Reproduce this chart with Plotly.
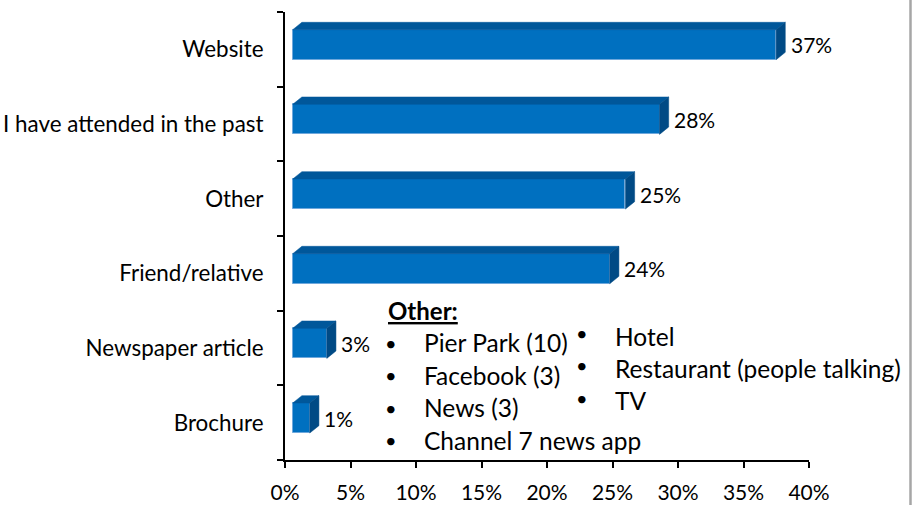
import plotly.graph_objects as go

categories = ["Website", "I have attended in the past", "Other", "Friend/relative",
              "Newspaper article", "Brochure"]
values = [36.9, 28.0, 25.4, 24.2, 2.6, 1.3]
x_ticks = [0, 5, 10, 15, 20, 25, 30, 35, 40]
x_tick_labels = [f"{t}%" for t in x_ticks]
other_title = "Other:"
other_col1 = ["Pier Park (10)", "Facebook (3)", "News (3)", "Channel 7 news app"]
other_col2 = ["Hotel", "Restaurant (people talking)", "TV"]

FONT = "Lato"
FRONT = "#0070C0"
TOP = "#00579A"
SIDE = "#004A85"
EDGE = "#6FA8DC"

W, H = 914, 505
L, R, T, B = 285, 105, 12, 45
PW, PH = W - L - R, H - T - B

def px(x):
    return (x - L) / PW

def py(y):
    return (H - B - y) / PH

n = len(categories)
pos = [n - 1 - i for i in range(n)]
base = 0.59          # front face offset from the axis (in %)
dx, dy = 0.70, 0.099  # depth of the 3D extrusion
f_lo, f_hi = -0.139, 0.263  # front face extent around the category centre

fig = go.Figure()

# front faces
fig.add_trace(go.Bar(
    orientation="h", y=[p + (f_lo + f_hi) / 2 for p in pos], x=values, base=base,
    width=f_hi - f_lo, marker=dict(color=FRONT, line=dict(color=EDGE, width=1)),
    hoverinfo="skip", showlegend=False))

# top faces and side faces
tx, ty, sx, sy = [], [], [], []
for p, v in zip(pos, values):
    x0, x1 = base, base + v
    yt = p + f_hi
    yb = p + f_lo
    tx += [x0, x1, x1 + dx, x0 + dx, x0, None]
    ty += [yt, yt, yt + dy, yt + dy, yt, None]
    sx += [x1, x1 + dx, x1 + dx, x1, x1, None]
    sy += [yb, yb + dy, yt + dy, yt, yb, None]
fig.add_trace(go.Scatter(x=tx, y=ty, mode="lines", fill="toself", fillcolor=TOP,
                         line=dict(color=TOP, width=0.5), hoverinfo="skip", showlegend=False))
fig.add_trace(go.Scatter(x=sx, y=sy, mode="lines", fill="toself", fillcolor=SIDE,
                         line=dict(color=SIDE, width=0.5), hoverinfo="skip", showlegend=False))

# value labels
for p, v in zip(pos, values):
    fig.add_annotation(x=base + v + dx + 0.25, y=p + (f_lo + f_hi) / 2, text=f"{round(v)}%",
                       xref="x", yref="y", xanchor="left", yanchor="middle", showarrow=False,
                       font=dict(family=FONT, size=21, color="black"))

# "Other" text box
ITEM = 24.5
fig.add_annotation(x=px(386), y=py(310), xref="paper", yref="paper", text=f"<b><u>{other_title}</u></b>",
                   xanchor="left", yanchor="middle", showarrow=False,
                   font=dict(family=FONT, size=24, color="black"))
for i, t in enumerate(other_col1):
    yy = 342.5 + i * 32.5
    fig.add_annotation(x=px(391), y=py(yy), xref="paper", yref="paper", text="•",
                       xanchor="center", yanchor="middle", showarrow=False,
                       font=dict(family=FONT, size=20, color="black"))
    fig.add_annotation(x=px(422), y=py(yy), xref="paper", yref="paper", text=t,
                       xanchor="left", yanchor="middle", showarrow=False,
                       font=dict(family=FONT, size=ITEM, color="black"))
for i, t in enumerate(other_col2):
    yy = 336 + i * 32.3
    fig.add_annotation(x=px(582), y=py(yy - 3), xref="paper", yref="paper", text="•",
                       xanchor="center", yanchor="middle", showarrow=False,
                       font=dict(family=FONT, size=20, color="black"))
    fig.add_annotation(x=px(613), y=py(yy), xref="paper", yref="paper", text=t,
                       xanchor="left", yanchor="middle", showarrow=False,
                       font=dict(family=FONT, size=ITEM, color="black"))

# right-hand grey frame line
fig.add_shape(type="line", xref="paper", yref="paper", x0=px(910.5), x1=px(910.5),
              y0=py(H), y1=py(0), line=dict(color="#A6A6A6", width=2.5))

fig.update_layout(
    width=W, height=H, margin=dict(l=L, r=R, t=T, b=B, pad=0),
    paper_bgcolor="white", plot_bgcolor="white",
    font=dict(family=FONT, size=20, color="black"),
    bargap=0,
    xaxis=dict(range=[0, 40], tickvals=x_ticks, ticktext=x_tick_labels, ticks="outside",
               ticklen=6, tickwidth=1.5, tickcolor="black", showline=True, linecolor="black",
               linewidth=2, showgrid=False, zeroline=False, fixedrange=True, automargin=False,
               ticklabelstandoff=7,
               tickfont=dict(family=FONT, size=21, color="black")),
    yaxis=dict(range=[-0.5, n - 0.5], tickvals=pos, ticktext=categories, ticks="",
               ticklabelstandoff=15, showline=True, linecolor="black", linewidth=2,
               showgrid=False, zeroline=False, fixedrange=True, automargin=False,
               minor=dict(tickvals=[k - 0.5 for k in range(n + 1)], ticks="outside",
                          ticklen=6, tickwidth=1.5, tickcolor="black", showgrid=False),
               tickfont=dict(family=FONT, size=22.4, color="black")),
)

fig.write_html("out.html", config={"displayModeBar": False},
               post_script="document.body.style.margin='0px';document.body.style.overflow='hidden';")
